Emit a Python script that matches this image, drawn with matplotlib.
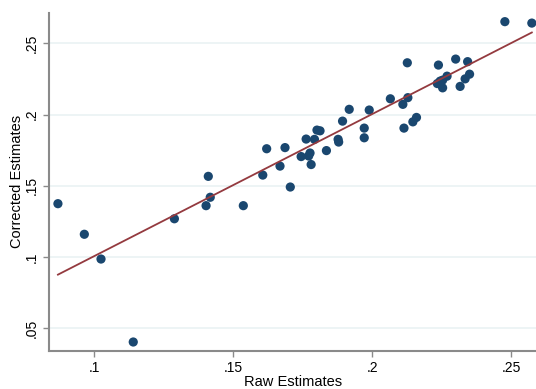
import matplotlib.pyplot as plt
import numpy as np

plt.rcParams['font.family'] = ['Liberation Sans', 'DejaVu Sans']

raw = np.array([0.0869, 0.0964, 0.1024, 0.1140, 0.1288, 0.1402, 0.1417, 0.1536,
                0.1410, 0.1620, 0.1606, 0.1668, 0.1686, 0.1762, 0.1792, 0.1801,
                0.1812, 0.1744, 0.1776, 0.1771, 0.1780, 0.1835, 0.1877, 0.1879,
                0.1893, 0.1917, 0.1971, 0.1971, 0.1989, 0.2065, 0.2110, 0.2128,
                0.2126, 0.2114, 0.2146, 0.2159, 0.1705, 0.2238, 0.2300, 0.2343,
                0.2269, 0.2253, 0.2234, 0.2253, 0.2316, 0.2334, 0.2350, 0.2477,
                0.2574, 0.2244])
corrected = np.array([0.1374, 0.1159, 0.0985, 0.0402, 0.1268, 0.1360, 0.1419, 0.1360,
                      0.1566, 0.1760, 0.1575, 0.1638, 0.1768, 0.1828, 0.1826, 0.1891,
                      0.1886, 0.1705, 0.1730, 0.1709, 0.1649, 0.1747, 0.1826, 0.1807,
                      0.1954, 0.2037, 0.1905, 0.1837, 0.2032, 0.2111, 0.2072, 0.2119,
                      0.2364, 0.1905, 0.1949, 0.1980, 0.1491, 0.2348, 0.2390, 0.2372,
                      0.2270, 0.2242, 0.2218, 0.2188, 0.2198, 0.2251, 0.2284, 0.2653,
                      0.2643, 0.2235])

# fitted line (Stata lfit on the full data)
fit_slope = 0.998
fit_intercept = 0.0008

xticks = [0.1, 0.15, 0.2, 0.25]
xlabels = ['.1', '.15', '.2', '.25']
yticks = [0.05, 0.1, 0.15, 0.2, 0.25]
ylabels = ['.05', '.1', '.15', '.2', '.25']

xs = np.array([raw.min(), raw.max()])

fig = plt.figure(figsize=(5.36, 3.89), dpi=100)
ax = fig.add_axes([0.092, 0.0985, 0.908, 0.8685])

ax.scatter(raw, corrected, s=44, color='#1a476f', edgecolors='none', zorder=3)
ax.plot(xs, fit_intercept + fit_slope * xs, color='#943a3f', lw=1.3, zorder=4)

ax.set_xlim(0.0838, 0.2589)
ax.set_ylim(0.0341, 0.2715)
ax.set_xticks(xticks)
ax.set_xticklabels(xlabels)
ax.set_yticks(yticks)
ax.set_yticklabels(ylabels, rotation=90, va='center')

ax.grid(axis='y', color='#eaf2f3', lw=1.2, zorder=0)
ax.set_axisbelow(True)
for s in ['top', 'right']:
    ax.spines[s].set_visible(False)
for s in ['left', 'bottom']:
    ax.spines[s].set_color('#8a8a8a')
    ax.spines[s].set_linewidth(1.5)
ax.tick_params(colors='#8a8a8a', labelcolor='black', labelsize=10, length=4, width=1)

ax.set_xlabel('Raw Estimates', fontsize=10.5, labelpad=0)
ax.set_ylabel('Corrected Estimates', fontsize=10.5, labelpad=1)

fig.savefig('out.png', dpi=100, facecolor='white')
